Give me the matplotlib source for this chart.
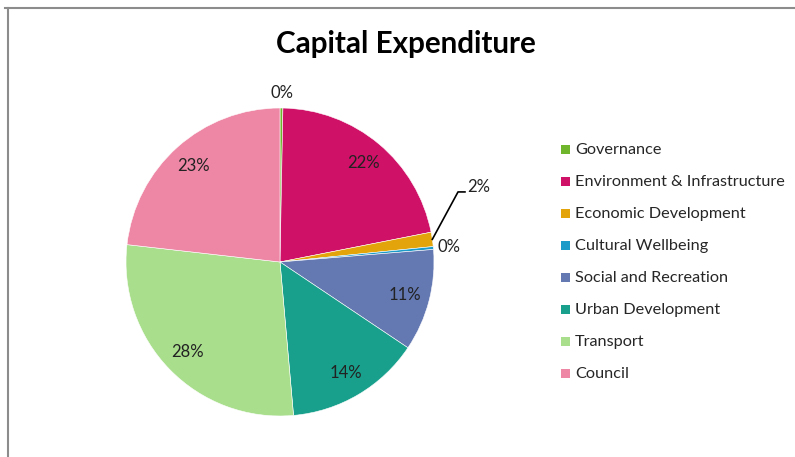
import numpy as np
import matplotlib
matplotlib.use('Agg')
import matplotlib.pyplot as plt
from matplotlib.patches import Rectangle
from matplotlib.lines import Line2D

plt.rcParams['font.family'] = ['Lato', 'DejaVu Sans']

categories = ['Governance', 'Environment & Infrastructure', 'Economic Development',
              'Cultural Wellbeing', 'Social and Recreation', 'Urban Development',
              'Transport', 'Council']
shares = [0.3, 21.6, 1.5, 0.3, 10.7, 14.2, 28.2, 23.2]
colors = ['#70B62C', '#CF1167', '#E3A40B', '#1C9BC9',
          '#6478B2', '#18A08C', '#A9DE8D', '#EE87A5']

W, H = 795, 457
fig = plt.figure(figsize=(W / 100, H / 100), dpi=100)

# pie centre (280, 262) px, radius 154 px
cx, cy, r = 280, 262, 154
ax = fig.add_axes([(cx - r) / W, (H - cy - r) / H, 2 * r / W, 2 * r / H])
wedges, _ = ax.pie(shares, colors=colors, startangle=90, counterclock=False,
                   wedgeprops=dict(edgecolor='white', linewidth=0.4))
ax.set_xlim(-1, 1)
ax.set_ylim(-1, 1)
ax.axis('off')

# percentage labels
for w, v in zip(wedges, shares):
    mid = np.deg2rad((w.theta1 + w.theta2) / 2)
    txt = '%.0f%%' % v
    if v >= 5:
        d = 0.84
        ax.text(d * np.cos(mid), d * np.sin(mid), txt, ha='center', va='center',
                fontsize=12, color='#222222')
    elif v >= 1:
        # leader line out to the right
        x0, y0 = 1.0 * np.cos(mid), 1.0 * np.sin(mid)
        ax.add_line(Line2D([x0, 1.156, 1.201], [y0, 0.455, 0.455], color='black',
                           lw=1.2, clip_on=False))
        ax.text(1.214, 0.487, txt, ha='left', va='center', fontsize=12,
                color='#222222', clip_on=False)
    else:
        d = 1.10
        ax.text(d * np.cos(mid), d * np.sin(mid), txt, ha='center', va='center',
                fontsize=12, color='#222222', clip_on=False)

# title
fig.text(406 / W, 1 - 53.5 / H, 'Capital Expenditure', ha='center', va='baseline',
         fontsize=21.3, fontweight='bold', color='black')

# legend
for i, (lab, col) in enumerate(zip(categories, colors)):
    yc = 149.5 + 32 * i
    fig.patches.append(Rectangle((560.5 / W, 1 - (yc + 4.5) / H), 9 / W, 9 / H,
                                 transform=fig.transFigure, facecolor=col,
                                 edgecolor='none'))
    fig.text(575 / W, 1 - (yc + 0.8) / H, lab, ha='left', va='center', fontsize=11.7,
             color='#262626')

# chart border (top and left edges)
fig.add_artist(Line2D([5 / W, 1], [1 - 7.5 / H, 1 - 7.5 / H], color='#8c8c8c',
                      lw=1.5, transform=fig.transFigure))
fig.add_artist(Line2D([7.5 / W, 7.5 / W], [0, 1 - 7.5 / H], color='#8c8c8c',
                      lw=1.5, transform=fig.transFigure))

fig.savefig('out.png', dpi=100, facecolor='white')
